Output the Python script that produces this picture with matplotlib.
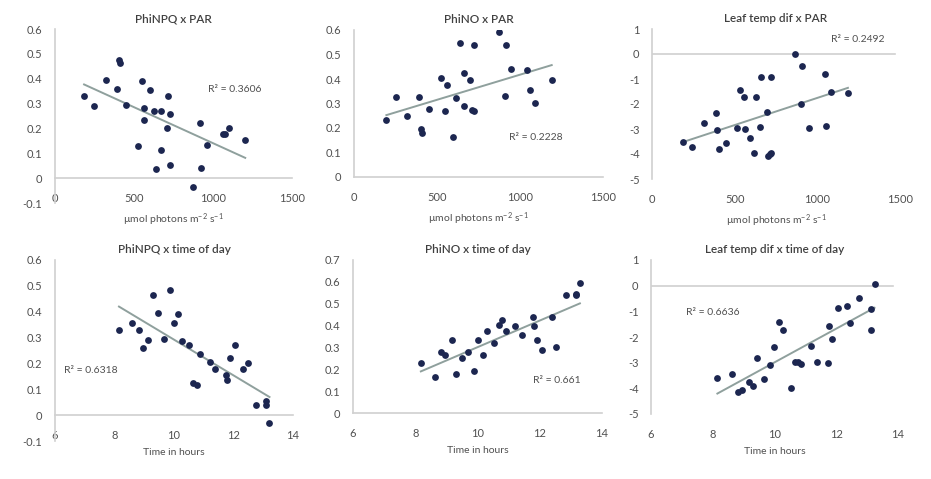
import numpy as np
from matplotlib import pyplot as plt

# PAR (umol photons m-2 s-1) vs parameters
par_npq = [184, 244, 320, 392, 403, 409, 452, 528, 551, 562, 566, 600, 626, 640,
           668, 668, 706, 717, 731, 731, 876, 918, 924, 964, 1066, 1075, 1102, 1204]
phinpq_par = [0.330, 0.290, 0.394, 0.357, 0.477, 0.464, 0.293, 0.130, 0.390, 0.283,
              0.234, 0.354, 0.270, 0.036, 0.270, 0.112, 0.203, 0.330, 0.257, 0.053,
              -0.035, 0.221, 0.039, 0.134, 0.179, 0.176, 0.200, 0.154]

par_no = [195, 251, 321, 390, 402, 412, 452, 522, 546, 562, 596, 616, 636, 660,
          663, 701, 711, 725, 723, 871, 910, 913, 946, 1044, 1058, 1088, 1191]
phino_par = [0.231, 0.328, 0.248, 0.328, 0.195, 0.179, 0.277, 0.403, 0.269, 0.374,
             0.163, 0.323, 0.547, 0.426, 0.290, 0.396, 0.274, 0.269, 0.539, 0.590,
             0.332, 0.539, 0.441, 0.438, 0.355, 0.301, 0.396]

par_lt = [188, 244, 314, 385, 395, 403, 450, 516, 534, 554, 560, 590, 617, 629,
          653, 659, 693, 702, 712, 722, 722, 867, 903, 909, 950, 1044, 1054, 1085, 1185]
leaft_par = [-3.53, -3.70, -2.77, -2.37, -3.03, -3.78, -3.57, -2.95, -1.43, -1.70,
             -3.01, -3.37, -3.94, -1.72, -2.93, -0.90, -2.31, -4.06, -4.00, -3.97,
             -0.92, 0.01, -2.00, -0.49, -2.97, -0.79, -2.87, -1.50, -1.56]

# time of day (hours) vs parameters
t_npq = [8.15, 8.60, 8.84, 8.96, 9.14, 9.29, 9.47, 9.65, 9.85, 10.0, 10.14, 10.27, 10.52, 10.64,
         10.78, 10.87, 11.2, 11.39, 11.76, 11.77, 11.87, 12.05, 12.32, 12.48, 12.77, 13.09, 13.10, 13.21]
phinpq_t = [0.330, 0.357, 0.330, 0.260, 0.291, 0.465, 0.396, 0.295, 0.483, 0.357,
            0.390, 0.288, 0.273, 0.126, 0.116, 0.235, 0.206, 0.178, 0.156, 0.135,
            0.221, 0.273, 0.178, 0.203, 0.039, 0.055, 0.039, -0.032]

t_no = [8.18, 8.63, 8.83, 8.96, 9.17, 9.30, 9.49, 9.69, 9.88, 10.03, 10.18, 10.31, 10.54, 10.69,
        10.80, 10.91, 11.22, 11.42, 11.77, 11.80, 11.91, 12.08, 12.39, 12.52, 12.84, 13.15, 13.17, 13.29]
phino_t = [0.231, 0.164, 0.280, 0.266, 0.332, 0.178, 0.250, 0.280, 0.190, 0.332,
           0.266, 0.377, 0.320, 0.403, 0.426, 0.374, 0.396, 0.359, 0.441, 0.396,
           0.335, 0.289, 0.438, 0.301, 0.540, 0.540, 0.543, 0.594]

t_lt = [8.15, 8.61, 8.83, 8.96, 9.17, 9.29, 9.44, 9.65, 9.86, 9.99, 10.15, 10.28, 10.53, 10.66,
        10.76, 10.87, 11.19, 11.38, 11.74, 11.76, 11.86, 12.05, 12.34, 12.46, 12.75, 13.11, 13.11, 13.24]
leaft_t = [-3.58, -3.45, -4.13, -4.08, -3.74, -3.89, -2.81, -3.62, -3.10, -2.40,
           -1.43, -1.72, -3.98, -2.99, -2.97, -3.07, -2.34, -2.96, -3.02, -1.59,
           -2.08, -0.87, -0.78, -1.46, -0.48, -0.91, -1.72, 0.07]

titles = ["PhiNPQ x PAR", "PhiNO x PAR", "Leaf temp dif x PAR",
          "PhiNPQ x time of day", "PhiNO x time of day", "Leaf temp dif x time of day"]
r2_labels = ["R² = 0.3606", "R² = 0.2228", "R² = 0.2492",
             "R² = 0.6318", "R² = 0.661", "R² = 0.6636"]
xlabel_par = "µmol photons m$^{-2}$ s$^{-1}$"
xlabel_time = "Time in hours"

DOT = "#1c2650"
TREND = "#8fa09d"
AXIS = "#d0d0d0"
TXT = "#505050"

plt.rcParams['font.family'] = ['Lato', 'DejaVu Sans']
plt.rcParams['mathtext.fontset'] = 'custom'
plt.rcParams['mathtext.rm'] = 'Lato'
plt.rcParams['mathtext.it'] = 'Lato'

fig = plt.figure(figsize=(9.31, 4.79), dpi=100)
W, H = 931.0, 479.0


def make_axes(x0, x1, ytop, ybot):
    return fig.add_axes([x0 / W, 1 - ybot / H, (x1 - x0) / W, (ybot - ytop) / H])


def panel(ax, x, y, title, r2, r2pos, xlabel, xlim, xticks, ylim, yticks, yfmt, zero_line):
    ax.set_xlim(xlim)
    ax.set_ylim(ylim)
    ax.set_xticks(xticks)
    ax.set_yticks(yticks)
    ax.set_yticklabels([yfmt(v) for v in yticks])
    for s in ["top", "right"]:
        ax.spines[s].set_visible(False)
    ax.spines["left"].set_color(AXIS)
    ax.spines["bottom"].set_color(AXIS)
    ax.spines["left"].set_linewidth(1.2)
    ax.spines["bottom"].set_linewidth(1.2)
    if zero_line == "spine":
        ax.spines["bottom"].set_position(("data", 0))
    elif zero_line == "line":
        ax.spines["bottom"].set_visible(False)
        ax.axhline(0, color=AXIS, lw=1.2, xmax=0.98, zorder=1)
    ax.tick_params(length=0, labelsize=8, colors=TXT, pad=9)
    ax.tick_params(axis="x", pad=11)

    ax.scatter(x, y, s=24, color=DOT, zorder=3, linewidths=0)
    m, b = np.polyfit(x, y, 1)
    xs = np.array([min(x), max(x)])
    ax.plot(xs, m * xs + b, color=TREND, lw=1.4, zorder=2)

    ax.set_title(title, fontsize=8.5, color="#404040", fontweight="semibold", pad=5)
    ax.set_xlabel(xlabel, fontsize=7.5, color=TXT, labelpad=5)
    ax.text(r2pos[0], r2pos[1], r2, fontsize=7.5, color=TXT, transform=ax.transAxes,
            ha="center", va="center")


def f1(v):
    return "0" if abs(v) < 1e-9 else ("%.1f" % v)


def fi(v):
    return "%d" % round(v)


par_ticks = [0, 500, 1000, 1500]
t_ticks = [6, 8, 10, 12, 14]

ax = make_axes(55, 292, 29, 203)
panel(ax, par_npq, phinpq_par, titles[0], r2_labels[0], (0.76, 0.65), xlabel_par,
      (0, 1500), par_ticks, (-0.1, 0.6), [-0.1, 0, 0.1, 0.2, 0.3, 0.4, 0.5, 0.6], f1, "spine")

ax = make_axes(354, 603, 30, 177)
panel(ax, par_no, phino_par, titles[1], r2_labels[1], (0.73, 0.27), xlabel_par,
      (0, 1500), par_ticks, (0, 0.6), [0, 0.1, 0.2, 0.3, 0.4, 0.5, 0.6], f1, None)

ax = make_axes(652, 900, 29, 179)
panel(ax, par_lt, leaft_par, titles[2], r2_labels[2], (0.83, 0.93), xlabel_par,
      (0, 1500), par_ticks, (-5, 1), [-5, -4, -3, -2, -1, 0, 1], fi, "line")

ax = make_axes(55, 293, 260, 441)
panel(ax, t_npq, phinpq_t, titles[3], r2_labels[3], (0.15, 0.39), xlabel_time,
      (6, 14), t_ticks, (-0.1, 0.6), [-0.1, 0, 0.1, 0.2, 0.3, 0.4, 0.5, 0.6], f1, "spine")

ax = make_axes(353, 602, 260, 413)
panel(ax, t_no, phino_t, titles[4], r2_labels[4], (0.82, 0.21), xlabel_time,
      (6, 14), t_ticks, (0, 0.7), [0, 0.1, 0.2, 0.3, 0.4, 0.5, 0.6, 0.7], f1, None)

ax = make_axes(651, 898, 260, 414)
panel(ax, t_lt, leaft_t, titles[5], r2_labels[5], (0.25, 0.66), xlabel_time,
      (6, 14), t_ticks, (-5, 1), [-5, -4, -3, -2, -1, 0, 1], fi, "line")

plt.savefig("out.png", dpi=100)
